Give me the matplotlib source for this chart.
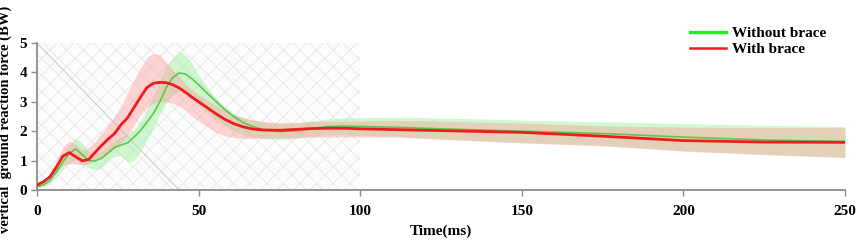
import numpy as np
import matplotlib
matplotlib.use("Agg")
import matplotlib.pyplot as plt
from matplotlib.patches import Rectangle
from matplotlib.lines import Line2D

# time axis (ms)
t = [0, 2, 4, 6, 8, 10, 12, 14, 16, 18, 20, 22, 24, 26, 28, 30, 32, 34, 36, 38,
     40, 42, 44, 46, 48, 50, 52, 55, 58, 61, 64, 67, 70, 75, 80, 85, 90, 95,
     100, 112, 125, 150, 175, 200, 225, 250]

# with brace (red)
with_mean = [0.17, 0.28, 0.45, 0.78, 1.15, 1.27, 1.13, 0.99, 1.04, 1.28, 1.52, 1.73,
             1.92, 2.22, 2.45, 2.80, 3.15, 3.48, 3.63, 3.66, 3.65, 3.58, 3.47, 3.32,
             3.15, 3.00, 2.85, 2.62, 2.41, 2.25, 2.14, 2.07, 2.04, 2.03, 2.06, 2.09,
             2.10, 2.10, 2.08, 2.05, 2.02, 1.96, 1.83, 1.68, 1.63, 1.62]
with_upper = [0.20, 0.32, 0.55, 1.00, 1.45, 1.68, 1.55, 1.35, 1.45, 1.65, 1.94, 2.20,
              2.50, 2.85, 3.30, 3.75, 4.15, 4.50, 4.65, 4.60, 4.35, 4.10, 3.85, 3.60,
              3.40, 3.25, 3.10, 2.90, 2.70, 2.55, 2.45, 2.38, 2.33, 2.30, 2.30, 2.32,
              2.33, 2.34, 2.35, 2.37, 2.34, 2.28, 2.18, 2.14, 2.12, 2.12]
with_lower = [0.12, 0.20, 0.35, 0.60, 0.85, 0.90, 0.88, 0.85, 0.90, 1.00, 1.10, 1.25,
              1.40, 1.60, 1.85, 2.20, 2.55, 2.80, 2.95, 3.00, 3.00, 2.95, 2.85, 2.70,
              2.50, 2.35, 2.20, 1.98, 1.85, 1.78, 1.75, 1.75, 1.76, 1.77, 1.78, 1.80,
              1.80, 1.80, 1.80, 1.80, 1.72, 1.60, 1.50, 1.32, 1.20, 1.10]

# without brace (green)
without_mean = [0.11, 0.17, 0.32, 0.62, 0.95, 1.25, 1.40, 1.20, 1.00, 0.99, 1.08, 1.26,
                1.45, 1.53, 1.60, 1.80, 2.02, 2.30, 2.60, 3.00, 3.48, 3.82, 3.98, 3.94,
                3.78, 3.58, 3.36, 3.05, 2.74, 2.49, 2.28, 2.15, 2.05, 1.99, 2.01, 2.09,
                2.16, 2.17, 2.16, 2.13, 2.08, 2.00, 1.92, 1.80, 1.70, 1.65]
without_upper = [0.14, 0.22, 0.42, 0.80, 1.20, 1.55, 1.77, 1.60, 1.30, 1.20, 1.30, 1.50,
                 1.70, 1.80, 1.90, 2.05, 2.35, 2.75, 3.20, 3.70, 4.20, 4.50, 4.72, 4.60,
                 4.30, 3.90, 3.60, 3.15, 2.85, 2.60, 2.45, 2.38, 2.30, 2.25, 2.28, 2.35,
                 2.42, 2.45, 2.46, 2.48, 2.45, 2.38, 2.32, 2.26, 2.20, 2.16]
without_lower = [0.08, 0.12, 0.24, 0.45, 0.72, 0.95, 1.05, 0.90, 0.75, 0.68, 0.75, 0.98,
                 1.15, 1.15, 0.95, 1.00, 1.30, 1.70, 2.10, 2.55, 2.95, 3.25, 3.35, 3.25,
                 3.10, 2.90, 2.70, 2.40, 2.20, 2.00, 1.85, 1.80, 1.75, 1.72, 1.75, 1.82,
                 1.87, 1.88, 1.85, 1.82, 1.74, 1.62, 1.52, 1.34, 1.22, 1.12]

x_ticks = [0, 50, 100, 150, 200, 250]
y_ticks = [0, 1, 2, 3, 4, 5]
labels = ["Without brace", "With brace"]

# faint watermark behind first 100 ms
diag_x = [0, 44]
diag_y = [5, 0]

plt.rcParams['font.family'] = ['Liberation Serif', 'DejaVu Serif']
plt.rcParams['font.weight'] = 'bold'
plt.rcParams['hatch.linewidth'] = 0.5
plt.rcParams['hatch.color'] = '#e4e4e4'

fig = plt.figure(figsize=(8.58, 2.4), dpi=100)
ax = fig.add_axes([0.0431, 0.2083, 0.9417, 0.6127])

ax.add_patch(Rectangle((0, 0), 100, 5, facecolor='#fcfcfc', edgecolor='#e4e4e4',
                       hatch='xx', lw=0, zorder=0))
ax.plot(diag_x, diag_y, color='#d0d0d0', lw=0.8, zorder=1)

ax.fill_between(t, without_lower, without_upper, color='#90ee90', alpha=0.4, lw=0, zorder=2)
ax.fill_between(t, with_lower, with_upper, color='#ff9090', alpha=0.38, lw=0, zorder=3)
ax.plot(t, without_mean, color='#5cc84a', lw=1.2, zorder=4)
ax.plot(t, with_mean, color='#ee1c1c', lw=2.0, zorder=5)

ax.set_xlim(0, 250)
ax.set_ylim(0, 5)
ax.set_xticks(x_ticks)
ax.set_yticks(y_ticks)
for s in ['top', 'right']:
    ax.spines[s].set_visible(False)
for s in ['left', 'bottom']:
    ax.spines[s].set_color('#8c8c8c')
    ax.spines[s].set_linewidth(1.3)
ax.tick_params(axis='both', colors='#8c8c8c', length=4, width=1.0, labelsize=11,
               labelcolor='black')
ax.tick_params(axis='x', pad=7)
ax.tick_params(axis='y', pad=3)

ax.set_xlabel("Time(ms)", fontsize=11, fontweight='bold')
ax.xaxis.set_label_coords(0.5, -0.235)
ax.set_ylabel("vertical  ground reaction force (BW)", fontsize=10.5, fontweight='bold')
ax.yaxis.set_label_coords(-0.031, 0.48)

handles = [Line2D([], [], color='#22ee22', lw=2.4),
           Line2D([], [], color='#ee1c1c', lw=1.8)]
ax.legend(handles, labels, loc='upper left', bbox_to_anchor=(0.804, 0.89),
          bbox_transform=fig.transFigure, frameon=False, fontsize=11,
          handlelength=2.4, handletextpad=0.35, labelspacing=0.15, borderpad=0,
          borderaxespad=0)

fig.savefig("out.png", dpi=100)
